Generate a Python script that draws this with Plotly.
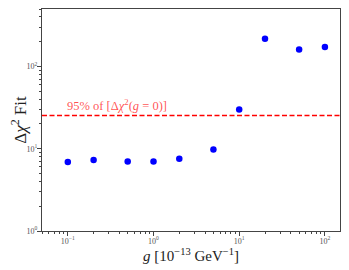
import numpy as np
import plotly.graph_objects as go

g_vals = [0.1, 0.2, 0.5, 1, 2, 5, 10, 20, 50, 100]
dchi2 = [6.9, 7.3, 7.0, 7.0, 7.55, 9.8, 30.0, 218, 161, 172]
threshold = 25.3
x_limits = [0.05, 150]
y_limits = [1, 500]
x_tickvals = [0.1, 1, 10, 100]
x_ticktext = ["10<sup>−1</sup>", "10<sup>0</sup>", "10<sup>1</sup>", "10<sup>2</sup>"]
y_tickvals = [1, 10, 100]
y_ticktext = ["10<sup>0</sup>", "10<sup>1</sup>", "10<sup>2</sup>"]

serif = "Liberation Serif, DejaVu Serif, serif"

def minor_vals(lo, hi):
    out = []
    for e in range(int(np.floor(np.log10(lo))), int(np.ceil(np.log10(hi))) + 1):
        for m in range(2, 10):
            v = m * 10.0 ** e
            if lo <= v <= hi:
                out.append(v)
    return out

fig = go.Figure()
fig.add_trace(go.Scatter(x=x_limits, y=[threshold, threshold], mode="lines",
                         line=dict(color="#ff0000", width=1.5, dash="5px,2.5px"),
                         hoverinfo="skip", showlegend=False))
fig.add_trace(go.Scatter(x=g_vals, y=dchi2, mode="markers",
                         marker=dict(color="#0000ff", size=6.5),
                         showlegend=False))

fig.add_annotation(x=np.log10(g_vals[0]), y=np.log10(threshold), xref="x", yref="y",
                   text="95% of [Δ<i>χ</i><sup>2</sup>(<i>g</i> = 0)]", showarrow=False,
                   xanchor="left", yanchor="bottom", yshift=1, xshift=-3,
                   font=dict(family=serif, size=12.5, color="rgba(255,0,0,0.7)"))

axis_common = dict(showgrid=False, zeroline=False, showline=True, linecolor="#444",
                   linewidth=1, mirror=True, ticks="outside", ticklen=4, tickcolor="#444",
                   automargin=False, ticklabelstandoff=-2,
                   tickfont=dict(family=serif, size=8, color="#555"))

fig.update_xaxes(type="log", range=[np.log10(x_limits[0]), np.log10(x_limits[1])],
                 tickvals=x_tickvals, ticktext=x_ticktext,
                 minor=dict(ticks="outside", ticklen=2, tickcolor="#444",
                            tickvals=minor_vals(x_limits[0], x_limits[1])),
                 title=dict(text="<i>g</i> [10<sup>−13</sup> GeV<sup>−1</sup>]",
                            font=dict(family=serif, size=15, color="#222"), standoff=0),
                 **axis_common)
fig.update_yaxes(type="log", range=[np.log10(y_limits[0]), np.log10(y_limits[1])],
                 tickvals=y_tickvals, ticktext=y_ticktext,
                 minor=dict(ticks="outside", ticklen=2, tickcolor="#444",
                            tickvals=minor_vals(y_limits[0], y_limits[1])),
                 title=dict(text="Δ<i>χ</i><sup>2</sup> Fit",
                            font=dict(family=serif, size=17, color="#222"), standoff=5),
                 **axis_common)

# page body has an 8px default margin; size/margins compensate for it
fig.update_layout(width=341, height=263, margin=dict(l=34, r=9, t=1, b=40),
                  plot_bgcolor="white", paper_bgcolor="white")
fig.write_html("out.html")
